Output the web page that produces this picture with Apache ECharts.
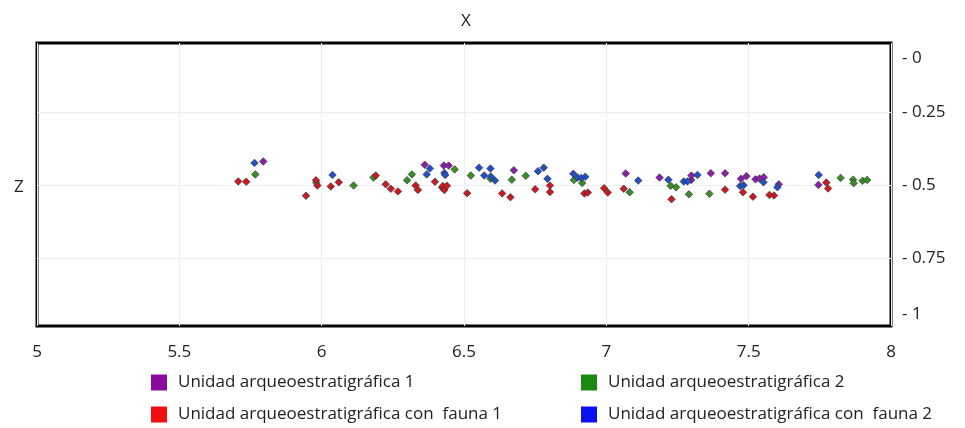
<!DOCTYPE html>
<html>
<head>
<meta charset="utf-8">
<script src="https://cdn.jsdelivr.net/npm/echarts@6/dist/echarts.min.js"></script>
<style>html,body{margin:0;padding:0;background:#fff}#c{width:965px;height:428px}</style>
</head>
<body>
<div id="c"></div>
<script>
var xTicks = [5, 5.5, 6, 6.5, 7, 7.5, 8];
var yTickValues = [0, 0.25, 0.5, 0.75, 1];
var yTickLabels = ['0', '0.25', '0.5', '0.75', '1'];
var yMin = 0.015, yMax = 0.98;

var seriesNames = [
  'Unidad arqueoestratigráfica 1',
  'Unidad arqueoestratigráfica 2',
  'Unidad arqueoestratigráfica con  fauna 1',
  'Unidad arqueoestratigráfica con  fauna 2'
];

var ua1 = [[5.795,0.419],[6.362,0.430],[6.429,0.433],[6.446,0.433],[6.675,0.449],[7.068,0.460],[7.187,0.474],[7.298,0.482],[7.299,0.467],[7.367,0.459],[7.417,0.459],[7.473,0.478],[7.492,0.469],[7.524,0.480],[7.538,0.477],[7.553,0.473],[7.606,0.497],[7.745,0.499]];

var ua2 = [[5.767,0.463],[5.981,0.491],[6.112,0.501],[6.182,0.474],[6.300,0.483],[6.317,0.463],[6.467,0.446],[6.524,0.467],[6.593,0.478],[6.668,0.481],[6.717,0.468],[6.886,0.482],[6.915,0.492],[7.082,0.524],[7.226,0.502],[7.245,0.507],[7.290,0.531],[7.362,0.529],[7.823,0.475],[7.867,0.481],[7.869,0.493],[7.900,0.485],[7.916,0.482]];

var uaf1 = [[5.707,0.487],[5.735,0.488],[5.945,0.536],[5.980,0.483],[5.985,0.501],[6.032,0.504],[6.060,0.490],[6.190,0.467],[6.225,0.497],[6.243,0.512],[6.268,0.521],[6.330,0.501],[6.338,0.516],[6.398,0.488],[6.423,0.508],[6.426,0.503],[6.431,0.516],[6.440,0.502],[6.511,0.527],[6.634,0.528],[6.663,0.541],[6.750,0.514],[6.802,0.501],[6.802,0.523],[6.923,0.528],[6.935,0.525],[6.992,0.510],[7.005,0.525],[7.061,0.512],[7.229,0.548],[7.417,0.515],[7.480,0.524],[7.515,0.539],[7.573,0.533],[7.589,0.535],[7.773,0.491],[7.779,0.511]];

var uaf2 = [[5.764,0.424],[6.038,0.465],[6.369,0.463],[6.380,0.443],[6.431,0.458],[6.434,0.465],[6.553,0.440],[6.571,0.467],[6.593,0.443],[6.594,0.470],[6.609,0.484],[6.760,0.452],[6.780,0.440],[6.793,0.478],[6.884,0.461],[6.899,0.474],[6.912,0.475],[6.926,0.471],[7.112,0.484],[7.218,0.481],[7.272,0.487],[7.285,0.487],[7.320,0.465],[7.470,0.503],[7.482,0.500],[7.552,0.490],[7.601,0.507],[7.746,0.465]];

var markerColors = ['#8a1fae', '#388f24', '#cc1a22', '#1f50c4'];
var legendColors = ['#8b0a9e', '#178a10', '#f01010', '#0a10f0'];
var allData = [ua1, ua2, uaf1, uaf2];
var legendPos = [[146, 369], [576, 369], [146, 401], [576, 401]];

var yLabelPos = yTickValues.map(function (v) { return Math.min(yMax, Math.max(yMin, v)); });

var chart = echarts.init(document.getElementById('c'), null, {renderer: 'canvas'});
var font = 'Open Sans';

var series = allData.map(function (d, i) {
  return {
    name: seriesNames[i],
    type: 'scatter',
    data: d,
    symbol: 'diamond',
    symbolSize: 7.5,
    itemStyle: { color: markerColors[i], borderColor: '#333', borderWidth: 0.7, opacity: 1 },
    emphasis: { disabled: true }
  };
});

var legends = seriesNames.map(function (n, i) {
  return {
    left: legendPos[i][0], top: legendPos[i][1],
    itemWidth: 16, itemHeight: 16, icon: 'rect', selectedMode: false,
    textStyle: { fontFamily: font, fontSize: 17, color: '#222', padding: [0, 0, 0, 6] },
    data: [{ name: n, itemStyle: { color: legendColors[i], borderWidth: 0, opacity: 1 } }]
  };
});

var labelStyle = { fontFamily: font, fontSize: 17, color: '#222' };

chart.setOption({
  animation: false,
  backgroundColor: '#fff',
  title: [
    { text: 'X', left: 456, top: 8, textStyle: { fontFamily: font, fontSize: 17, fontWeight: 'normal', color: '#222' } },
    { text: 'Z', left: 9, top: 174, textStyle: { fontFamily: font, fontSize: 17, fontWeight: 'normal', color: '#222' } }
  ],
  grid: { left: 37, right: 74, top: 43, bottom: 102, show: true, borderColor: '#000', borderWidth: 3, backgroundColor: 'transparent' },
  legend: legends,
  xAxis: {
    type: 'value', min: xTicks[0], max: xTicks[xTicks.length - 1], interval: 0.5,
    axisLine: { show: false }, axisTick: { show: false },
    axisLabel: { fontFamily: font, fontSize: 17, color: '#222', margin: 18 },
    splitLine: { show: true, lineStyle: { color: '#eeeeee', width: 1 } }
  },
  yAxis: {
    type: 'value', position: 'right', inverse: true, min: yMin, max: yMax,
    axisLine: { show: false },
    axisTick: { show: false, customValues: yTickValues.slice(1, -1) },
    axisLabel: {
      customValues: yLabelPos,
      fontFamily: font, fontSize: 17, color: '#222', margin: 11,
      verticalAlignMinLabel: 'top', verticalAlignMaxLabel: 'bottom',
      formatter: function (v) {
        var idx = yLabelPos.indexOf(v);
        var t = '- ' + (idx >= 0 ? yTickLabels[idx] : v);
        if (idx === 0) return '{first|' + t + '}';
        if (idx === yLabelPos.length - 1) return '{last|' + t + '}';
        return t;
      },
      rich: {
        first: Object.assign({ padding: [7, 0, 0, 0] }, labelStyle),
        last: Object.assign({ padding: [0, 0, 3, 0] }, labelStyle)
      }
    },
    splitLine: { show: true, lineStyle: { color: '#eeeeee', width: 1 } }
  },
  series: series
});
</script>
</body>
</html>
